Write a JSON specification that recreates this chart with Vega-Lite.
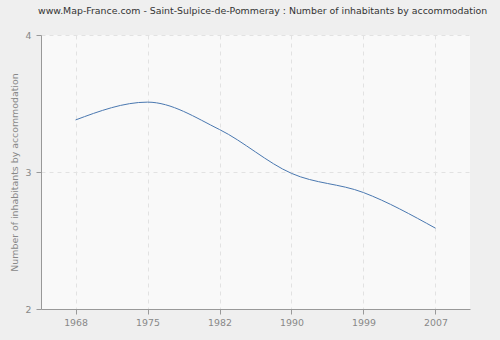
{
  "$schema": "https://vega.github.io/schema/vega-lite/v6.json",
  "autosize": "none",
  "width": 429,
  "height": 274,
  "padding": {"left": 41, "top": 35, "right": 30, "bottom": 31},
  "background": "#efefef",
  "title": {
    "text": "www.Map-France.com - Saint-Sulpice-de-Pommeray : Number of inhabitants by accommodation",
    "anchor": "start",
    "frame": "group",
    "dx": -3,
    "offset": 14,
    "font": "DejaVu Sans",
    "fontSize": 9.4,
    "fontWeight": "normal",
    "color": "#333333"
  },
  "config": {
    "view": {"fill": "#f9f9f9", "stroke": null},
    "axis": {
      "labelFont": "DejaVu Sans",
      "labelFontSize": 9.4,
      "labelColor": "#888888",
      "titleFont": "DejaVu Sans",
      "titleFontSize": 9.4,
      "titleFontWeight": "normal",
      "titleColor": "#888888",
      "domainColor": "#999999",
      "tickColor": "#999999",
      "gridColor": "#e2e2e2",
      "gridDash": [4, 4]
    }
  },
  "data": {
    "values": [
      {"year": "1968", "value": 3.38},
      {"year": "1975", "value": 3.51},
      {"year": "1982", "value": 3.31},
      {"year": "1990", "value": 2.99},
      {"year": "1999", "value": 2.85},
      {"year": "2007", "value": 2.59}
    ]
  },
  "mark": {"type": "line", "interpolate": "monotone", "color": "#4a78b0", "strokeWidth": 1},
  "encoding": {
    "x": {
      "field": "year",
      "type": "ordinal",
      "scale": {"type": "point", "padding": 0.48},
      "axis": {"title": null, "labelAngle": 0, "grid": true, "tickSize": 5, "labelPadding": 4}
    },
    "y": {
      "field": "value",
      "type": "quantitative",
      "scale": {"domain": [2, 4], "nice": false},
      "axis": {"title": "Number of inhabitants by accommodation", "tickCount": 2, "format": ".0f", "grid": true, "tickSize": 5, "titlePadding": 6, "labelPadding": 5}
    }
  }
}
